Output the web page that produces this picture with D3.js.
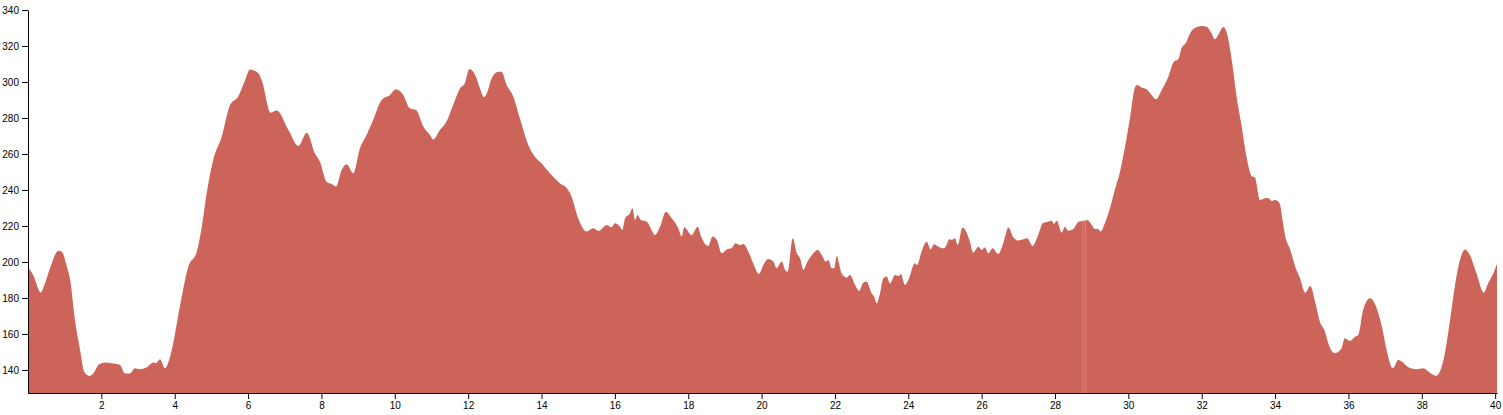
<!DOCTYPE html>
<html>
<head>
<meta charset="utf-8">
<script src="https://cdn.jsdelivr.net/npm/d3@7"></script>
<style>
  html, body { margin: 0; padding: 0; background: #fff; }
  svg { display: block; }
</style>
</head>
<body>
<svg id="chart" width="1503" height="415"></svg>
<script>
// Distance along the route (km)
const distanceKm = [
  0.00, 0.14, 0.35, 0.46, 0.60, 0.83, 0.92, 1.06, 1.15, 1.28, 1.42, 1.53, 1.67, 1.78, 1.94,
  2.10, 2.28, 2.51, 2.64, 2.78, 2.92, 3.05, 3.24, 3.42, 3.49, 3.60, 3.73, 3.92,
  4.14, 4.37, 4.60, 4.74, 4.87, 5.05, 5.28, 5.51, 5.73, 5.92, 6.05, 6.28, 6.37, 6.62, 6.78,
  7.10, 7.37, 7.60, 7.82, 7.96, 8.14, 8.28, 8.40, 8.55, 8.69, 8.87, 9.05, 9.23, 9.41, 9.64, 9.87,
  10.03, 10.23, 10.41, 10.58, 10.78, 10.96, 11.05, 11.23, 11.41, 11.59, 11.78, 11.91,
  12.03, 12.19, 12.32, 12.43, 12.51, 12.64, 12.82, 12.91, 13.05, 13.23, 13.41, 13.64, 13.82,
  14.00, 14.23, 14.50, 14.69, 14.82, 15.00, 15.23, 15.41, 15.55, 15.78, 15.91,
  16.00, 16.14, 16.20, 16.28, 16.41, 16.48, 16.55, 16.62, 16.71, 16.87, 17.00, 17.09, 17.23,
  17.39, 17.55, 17.73, 17.82, 17.89, 18.09, 18.26, 18.35, 18.46, 18.55, 18.66, 18.78, 18.91,
  19.05, 19.18, 19.29, 19.41, 19.50, 19.64, 19.77, 19.93, 20.05, 20.18, 20.32, 20.41, 20.55,
  20.64, 20.71, 20.85, 20.96, 21.05, 21.14, 21.23, 21.41, 21.53, 21.64, 21.75, 21.82, 21.91,
  21.98, 22.05, 22.11, 22.18, 22.32, 22.41, 22.55, 22.66, 22.77, 22.86, 23.00, 23.07, 23.14,
  23.23, 23.32, 23.41, 23.50, 23.64, 23.73, 23.80, 23.91, 24.00, 24.18, 24.24, 24.36, 24.50,
  24.61, 24.70, 24.82, 24.95, 25.03, 25.12, 25.18, 25.27, 25.35, 25.48, 25.59, 25.68, 25.77,
  25.91, 26.00, 26.09, 26.18, 26.30, 26.45, 26.59, 26.73, 26.86, 27.00, 27.13, 27.24, 27.39,
  27.54, 27.68, 27.82, 27.91, 27.97, 28.05, 28.18, 28.27, 28.36, 28.50, 28.64,
  28.760, 28.763, 28.766, 28.840, 28.843, 28.846, 28.88,
  29.00, 29.09, 29.18, 29.24, 29.36, 29.50, 29.63, 29.77, 29.91, 30.05, 30.18, 30.24, 30.36,
  30.50, 30.63, 30.75, 30.91, 31.09, 31.24, 31.36, 31.45, 31.57, 31.68, 31.82, 32.00, 32.13,
  32.27, 32.36, 32.45, 32.59, 32.68, 32.82, 32.95, 33.09, 33.22, 33.36, 33.45, 33.59, 33.72,
  33.81, 33.91, 34.00, 34.09, 34.14, 34.19, 34.28, 34.41, 34.55, 34.68, 34.82, 34.96, 35.09,
  35.22, 35.36, 35.45, 35.63, 35.81, 35.90, 36.04, 36.18, 36.27, 36.40, 36.59, 36.77, 36.91,
  37.04, 37.21, 37.36, 37.49, 37.63, 37.86, 38.04, 38.22, 38.39, 38.51, 38.63, 38.77, 38.90,
  39.04, 39.18, 39.31, 39.49, 39.69, 39.80, 39.95, 40.05
];

// Elevation (m); null marks a gap in the recording
const elevationM = [
  197.0, 192.8, 183.0, 188.0, 196.5, 206.3, 205.7, 197.4, 190.0, 167.8, 151.1, 139.1, 136.7, 138.1, 143.2,
  144.1, 143.7, 142.8, 138.1, 138.1, 140.9, 140.4, 141.5, 144.1, 143.7, 145.9, 140.9, 151.1,
  175.2, 197.4, 205.7, 219.6, 238.1, 256.7, 269.6, 287.2, 291.9, 301.1, 307.0, 304.8, 301.1, 282.9, 284.1,
  273.3, 264.4, 271.8, 260.4, 255.7, 244.6, 243.3, 241.9, 251.1, 254.3, 249.3, 263.2, 270.6, 278.9, 290.0, 292.8,
  295.9, 292.8, 285.4, 284.4, 275.2, 270.6, 268.1, 273.3, 278.0, 287.2, 296.5, 299.3,
  307.2, 303.9, 296.5, 291.5, 293.7, 302.0, 305.7, 305.7, 298.3, 291.9, 279.8, 265.0, 258.5,
  254.8, 249.3, 243.7, 240.9, 236.3, 224.3, 216.9, 218.7, 217.2, 220.6, 219.3,
  221.5, 219.6, 217.8, 224.3, 227.0, 229.8, 223.3, 226.1, 223.3, 222.4, 217.8, 215.0, 219.6,
  227.9, 224.3, 218.7, 214.1, 219.3, 215.0, 219.6, 214.1, 210.0, 208.9, 214.1, 212.2, 204.8,
  207.0, 207.6, 210.4, 209.4, 210.0, 205.7, 199.3, 193.3, 198.3, 201.7, 200.2, 196.5, 200.2,
  195.6, 194.6, 213.2, 204.8, 202.0, 195.6, 199.3, 204.8, 206.7, 203.9, 200.2, 201.1, 196.5,
  196.5, 203.3, 199.3, 193.7, 191.3, 192.8, 187.2, 183.9, 188.5, 189.1, 182.6, 180.7, 177.0,
  182.6, 190.9, 191.9, 188.1, 192.8, 192.2, 193.2, 187.2, 190.0, 199.3, 198.3, 205.7, 211.3,
  207.0, 209.8, 208.5, 207.6, 208.9, 212.6, 212.2, 213.2, 209.4, 219.1, 216.3, 211.3, 205.2,
  208.5, 206.7, 208.0, 204.8, 207.6, 204.4, 210.4, 219.1, 213.7, 211.9, 212.6, 213.2, 208.9,
  215.0, 221.8, 222.4, 222.9, 221.1, 222.9, 216.3, 219.6, 217.4, 218.3, 222.4,
  222.8, null, 222.9, 223.1, null, 223.2, 223.3,
  220.6, 218.3, 218.3, 216.9, 221.5, 230.0, 240.0, 250.0, 264.1, 280.7, 297.0, 298.3, 297.0,
  295.9, 292.8, 290.4, 295.6, 302.9, 311.3, 312.6, 318.7, 321.8, 327.0, 330.2, 331.1, 330.7,
  327.0, 323.7, 326.1, 330.5, 327.5, 312.0, 292.0, 275.2, 258.5, 247.8, 247.0, 234.4, 235.4,
  235.6, 233.9, 234.5, 233.5, 231.5, 225.0, 214.0, 207.0, 197.4, 190.9, 182.9, 186.7, 178.0,
  166.8, 161.3, 154.8, 149.3, 152.0, 157.6, 156.1, 158.5, 159.4, 173.3, 179.8, 174.3, 164.1,
  151.1, 140.9, 145.6, 144.1, 141.5, 140.4, 140.9, 138.5, 136.8, 140.0, 149.3, 167.8, 186.3,
  201.1, 207.0, 203.9, 193.7, 182.9, 187.8, 193.7, 198.9
];

const xTickValues = [2, 4, 6, 8, 10, 12, 14, 16, 18, 20, 22, 24, 26, 28, 30, 32, 34, 36, 38, 40];
const yTickValues = [140, 160, 180, 200, 220, 240, 260, 280, 300, 320, 340];
const yDomain = [127.2, 340];

const data = distanceKm.map((d, i) => ({ x: d, y: elevationM[i] }));

const svg = d3.select("#chart");
const margin = { top: 10, right: 6, bottom: 22, left: 28 };
const width = 1503 - margin.left - margin.right;
const height = 415 - margin.top - margin.bottom;

const g = svg.append("g").attr("transform", `translate(${margin.left},${margin.top})`);

const x = d3.scaleLinear().domain([0, d3.max(distanceKm)]).range([0, width]);
const y = d3.scaleLinear().domain(yDomain).range([height, 0]);

const area = d3.area()
  .defined(d => d.y !== null)
  .x(d => x(d.x))
  .y0(height)
  .y1(d => y(d.y))
  .curve(d3.curveMonotoneX);

g.append("path")
  .datum(data)
  .attr("fill", "#cd645a")
  .attr("d", area);

g.append("g")
  .attr("transform", `translate(0,${height})`)
  .call(d3.axisBottom(x).tickValues(xTickValues).tickSizeOuter(0));

g.append("g")
  .call(d3.axisLeft(y).tickValues(yTickValues).tickSizeOuter(0));
</script>
</body>
</html>
